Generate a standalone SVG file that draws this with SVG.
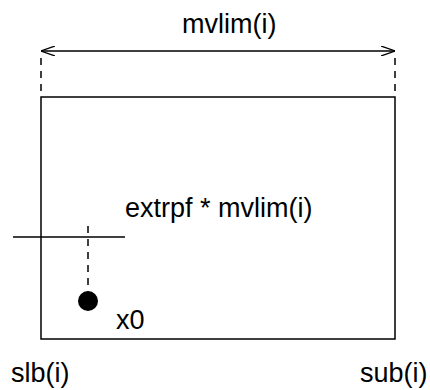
<svg xmlns="http://www.w3.org/2000/svg" width="430" height="390" viewBox="0 0 430 390">
<defs>
<marker id="ah" viewBox="0 0 14 10" refX="14" refY="5" markerWidth="14" markerHeight="10" markerUnits="userSpaceOnUse" orient="auto-start-reverse">
<path d="M0,0 L14,5 L0,10" fill="none" stroke="#000" stroke-width="1.3"/>
</marker>
<style>
.t{font-family:"Liberation Sans",Arial,sans-serif;font-size:27px;fill:#000}
.l{stroke:#000;stroke-width:1.5;fill:none}
.d{stroke:#000;stroke-width:1.5;fill:none;stroke-dasharray:7,6}
</style>
</defs>
<rect width="430" height="390" fill="#fff"/>
<g id="box"><path class="l" d="M41,97 H395 V339 H41 Z"/></g>
<g id="connectors">
<line class="l" x1="41" y1="51" x2="395" y2="51" marker-start="url(#ah)" marker-end="url(#ah)"/>
<line class="d" x1="41" y1="58" x2="41" y2="96"/>
<line class="d" x1="395" y1="58" x2="395" y2="96"/>
<line class="l" x1="13" y1="237" x2="125" y2="237"/>
<line class="d" x1="88" y1="226" x2="88" y2="294"/>
</g>
<g id="x0"><circle cx="88" cy="301" r="10" fill="#000"/><text class="t" x="116" y="329">x0</text></g>
<text class="t" x="182" y="33">mvlim(i)</text>
<text class="t" x="125" y="217">extrpf * mvlim(i)</text>
<text class="t" x="11" y="382">slb(i)</text>
<text class="t" x="360" y="382">sub(i)</text>
</svg>
